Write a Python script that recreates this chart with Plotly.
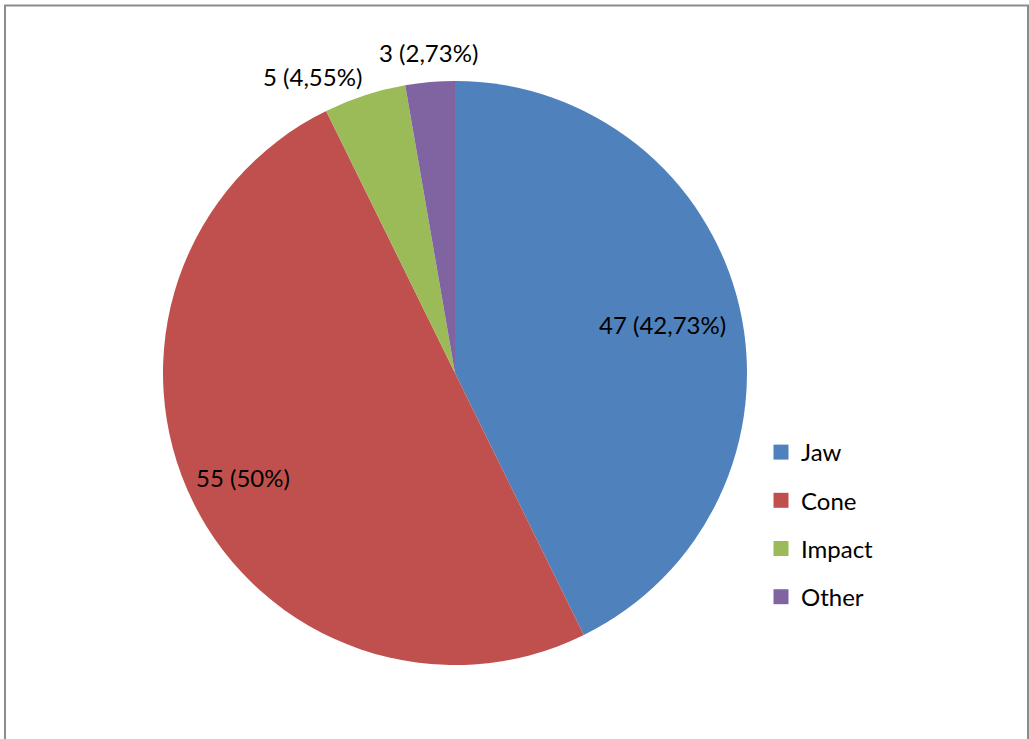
import math
import plotly.graph_objects as go

categories = ["Jaw", "Cone", "Impact", "Other"]
counts = [47, 55, 5, 3]
pct_labels = ["42,73%", "50%", "4,55%", "2,73%"]
colors = ["#4F81BD", "#C0504D", "#9BBB59", "#8064A2"]

# label placement style (radial factor of pie radius, anchors)
label_radius = [0.73, 0.81, 1.01, 1.045]
label_xanchor = ["center", "center", "right", "center"]
label_yanchor = ["middle", "middle", "bottom", "bottom"]

W, H = 1029, 739
FONT = "Lato, Calibri, Carlito, sans-serif"
FS = 24

# pie domain in pixels
px0, px1, py0, py1 = 163, 747, 81, 665
dom_x = [px0 / W, px1 / W]
dom_y = [1 - py1 / H, 1 - py0 / H]

texts = [f"{c} ({p})" for c, p in zip(counts, pct_labels)]

fig = go.Figure()
fig.add_trace(go.Pie(
    labels=categories,
    values=counts,
    textinfo="none",
    sort=False,
    direction="clockwise",
    rotation=0,
    marker=dict(colors=colors, line=dict(width=0)),
    showlegend=False,
    domain=dict(x=dom_x, y=dom_y),
    hoverinfo="label+value+percent",
))

# data labels placed at each slice's mid-angle
cx = (dom_x[0] + dom_x[1]) / 2
cy = (dom_y[0] + dom_y[1]) / 2
R_px = min(px1 - px0, py1 - py0) / 2
total = sum(counts)
cum = 0
annotations = []
for i, v in enumerate(counts):
    mid = (cum + v / 2) / total * 2 * math.pi
    cum += v
    r = R_px * label_radius[i]
    annotations.append(dict(
        x=cx + r * math.sin(mid) / W, y=cy + r * math.cos(mid) / H,
        xref="paper", yref="paper", text=texts[i], showarrow=False,
        xanchor=label_xanchor[i], yanchor=label_yanchor[i],
        font=dict(family=FONT, size=FS, color="black"),
    ))

# legend entries
for i, (cat, col) in enumerate(zip(categories, colors)):
    fig.add_trace(go.Scatter(
        x=[None], y=[None], mode="markers", name=cat,
        marker=dict(symbol="square", size=15, color=col, line=dict(width=0)),
        legendgroup=f"g{i}", showlegend=True,
    ))

fig.update_layout(
    width=W, height=H,
    margin=dict(l=0, r=0, t=0, b=0),
    paper_bgcolor="white", plot_bgcolor="white",
    xaxis=dict(visible=False), yaxis=dict(visible=False),
    annotations=annotations,
    legend=dict(
        x=761 / W, y=1 - 430 / H, xanchor="left", yanchor="top",
        font=dict(family=FONT, size=FS, color="black"),
        tracegroupgap=14, bgcolor="rgba(0,0,0,0)",
    ),
    shapes=[dict(
        type="rect", xref="paper", yref="paper",
        x0=5 / W, x1=1028 / W, y0=-0.05, y1=1 - 5.5 / H,
        line=dict(color="#8C8C8C", width=2), fillcolor="rgba(0,0,0,0)",
        layer="above",
    )],
)

fig.write_html("out.html")
